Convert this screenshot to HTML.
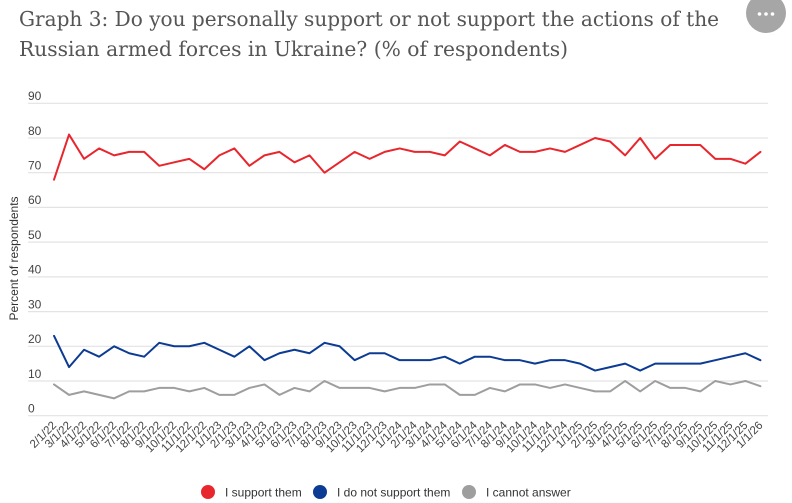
<!DOCTYPE html>
<html>
<head>
<meta charset="utf-8">
<style>
html,body{margin:0;padding:0;background:#fff;}
svg{display:block;}
</style>
</head>
<body>
<svg width="792" height="503" viewBox="0 0 792 503" xmlns="http://www.w3.org/2000/svg">
<rect width="792" height="503" fill="#ffffff"/>
<!-- Title -->
<g font-family="'DejaVu Serif','Liberation Serif',serif" font-size="20.5" fill="#555555">
<text x="19" y="26" textLength="700" lengthAdjust="spacingAndGlyphs">Graph 3: Do you personally support or not support the actions of the</text>
<text x="19" y="56" textLength="549" lengthAdjust="spacingAndGlyphs">Russian armed forces in Ukraine? (% of respondents)</text>
</g>
<!-- menu button -->
<circle cx="766" cy="13" r="20" fill="#a6a6a6"/>
<circle cx="759.5" cy="14" r="1.8" fill="#fff"/>
<circle cx="766" cy="14" r="1.8" fill="#fff"/>
<circle cx="772.5" cy="14" r="1.8" fill="#fff"/>

<!-- gridlines -->
<g stroke="#e3e3e3" stroke-width="1.2">
<line x1="28" x2="768" y1="415.7" y2="415.7"/>
<line x1="28" x2="768" y1="381.0" y2="381.0"/>
<line x1="28" x2="768" y1="346.3" y2="346.3"/>
<line x1="28" x2="768" y1="311.6" y2="311.6"/>
<line x1="28" x2="768" y1="276.9" y2="276.9"/>
<line x1="28" x2="768" y1="242.1" y2="242.1"/>
<line x1="28" x2="768" y1="207.4" y2="207.4"/>
<line x1="28" x2="768" y1="172.7" y2="172.7"/>
<line x1="28" x2="768" y1="138.0" y2="138.0"/>
<line x1="28" x2="768" y1="103.3" y2="103.3"/>
</g>
<!-- y tick labels -->
<g font-family="'Liberation Sans',sans-serif" font-size="12" fill="#444444">
<text x="28" y="412.5">0</text>
<text x="28" y="377.8">10</text>
<text x="28" y="343.1">20</text>
<text x="28" y="308.4">30</text>
<text x="28" y="273.7">40</text>
<text x="28" y="238.9">50</text>
<text x="28" y="204.2">60</text>
<text x="28" y="169.5">70</text>
<text x="28" y="134.8">80</text>
<text x="28" y="100.1">90</text>
</g>
<!-- y axis title -->
<text transform="translate(18,258.5) rotate(-90)" text-anchor="middle" font-family="'Liberation Sans',sans-serif" font-size="12" fill="#333333">Percent of respondents</text>

<!-- series -->
<g transform="matrix(15.03 0 0 -3.471 54 415.7)" fill="none" stroke-linejoin="round" stroke-linecap="round">
<polyline vector-effect="non-scaling-stroke" stroke="#9e9e9e" stroke-width="2" points="0,9 1,6 2,7 3,6 4,5 5,7 6,7 7,8 8,8 9,7 10,8 11,6 12,6 13,8 14,9 15,6 16,8 17,7 18,10 19,8 20,8 21,8 22,7 23,8 24,8 25,9 26,9 27,6 28,6 29,8 30,7 31,9 32,9 33,8 34,9 35,8 36,7 37,7 38,10 39,7 40,10 41,8 42,8 43,7 44,10 45,9 46,10 47,8.5"/>
<polyline vector-effect="non-scaling-stroke" stroke="#0b3b93" stroke-width="2" points="0,23 1,14 2,19 3,17 4,20 5,18 6,17 7,21 8,20 9,20 10,21 11,19 12,17 13,20 14,16 15,18 16,19 17,18 18,21 19,20 20,16 21,18 22,18 23,16 24,16 25,16 26,17 27,15 28,17 29,17 30,16 31,16 32,15 33,16 34,16 35,15 36,13 37,14 38,15 39,13 40,15 41,15 42,15 43,15 44,16 45,17 46,18 47,16"/>
<polyline vector-effect="non-scaling-stroke" stroke="#e8262d" stroke-width="2" points="0,68 1,81 2,74 3,77 4,75 5,76 6,76 7,72 8,73 9,74 10,71 11,75 12,77 13,72 14,75 15,76 16,73 17,75 18,70 19,73 20,76 21,74 22,76 23,77 24,76 25,76 26,75 27,79 28,77 29,75 30,78 31,76 32,76 33,77 34,76 35,78 36,80 37,79 38,75 39,80 40,74 41,78 42,78 43,78 44,74 45,74 46,72.6 47,76"/>
</g>

<!-- x labels -->
<g font-family="'Liberation Sans',sans-serif" font-size="11.5" fill="#444444" text-anchor="end">
<text transform="translate(57.0,426) rotate(-45)">2/1/22</text>
<text transform="translate(72.0,426) rotate(-45)">3/1/22</text>
<text transform="translate(87.1,426) rotate(-45)">4/1/22</text>
<text transform="translate(102.1,426) rotate(-45)">5/1/22</text>
<text transform="translate(117.1,426) rotate(-45)">6/1/22</text>
<text transform="translate(132.2,426) rotate(-45)">7/1/22</text>
<text transform="translate(147.2,426) rotate(-45)">8/1/22</text>
<text transform="translate(162.2,426) rotate(-45)">9/1/22</text>
<text transform="translate(177.2,426) rotate(-45)">10/1/22</text>
<text transform="translate(192.3,426) rotate(-45)">11/1/22</text>
<text transform="translate(207.3,426) rotate(-45)">12/1/22</text>
<text transform="translate(222.3,426) rotate(-45)">1/1/23</text>
<text transform="translate(237.4,426) rotate(-45)">2/1/23</text>
<text transform="translate(252.4,426) rotate(-45)">3/1/23</text>
<text transform="translate(267.4,426) rotate(-45)">4/1/23</text>
<text transform="translate(282.5,426) rotate(-45)">5/1/23</text>
<text transform="translate(297.5,426) rotate(-45)">6/1/23</text>
<text transform="translate(312.5,426) rotate(-45)">7/1/23</text>
<text transform="translate(327.5,426) rotate(-45)">8/1/23</text>
<text transform="translate(342.6,426) rotate(-45)">9/1/23</text>
<text transform="translate(357.6,426) rotate(-45)">10/1/23</text>
<text transform="translate(372.6,426) rotate(-45)">11/1/23</text>
<text transform="translate(387.7,426) rotate(-45)">12/1/23</text>
<text transform="translate(402.7,426) rotate(-45)">1/1/24</text>
<text transform="translate(417.7,426) rotate(-45)">2/1/24</text>
<text transform="translate(432.8,426) rotate(-45)">3/1/24</text>
<text transform="translate(447.8,426) rotate(-45)">4/1/24</text>
<text transform="translate(462.8,426) rotate(-45)">5/1/24</text>
<text transform="translate(477.8,426) rotate(-45)">6/1/24</text>
<text transform="translate(492.9,426) rotate(-45)">7/1/24</text>
<text transform="translate(507.9,426) rotate(-45)">8/1/24</text>
<text transform="translate(522.9,426) rotate(-45)">9/1/24</text>
<text transform="translate(538.0,426) rotate(-45)">10/1/24</text>
<text transform="translate(553.0,426) rotate(-45)">11/1/24</text>
<text transform="translate(568.0,426) rotate(-45)">12/1/24</text>
<text transform="translate(583.1,426) rotate(-45)">1/1/25</text>
<text transform="translate(598.1,426) rotate(-45)">2/1/25</text>
<text transform="translate(613.1,426) rotate(-45)">3/1/25</text>
<text transform="translate(628.1,426) rotate(-45)">4/1/25</text>
<text transform="translate(643.2,426) rotate(-45)">5/1/25</text>
<text transform="translate(658.2,426) rotate(-45)">6/1/25</text>
<text transform="translate(673.2,426) rotate(-45)">7/1/25</text>
<text transform="translate(688.3,426) rotate(-45)">8/1/25</text>
<text transform="translate(703.3,426) rotate(-45)">9/1/25</text>
<text transform="translate(718.3,426) rotate(-45)">10/1/25</text>
<text transform="translate(733.4,426) rotate(-45)">11/1/25</text>
<text transform="translate(748.4,426) rotate(-45)">12/1/25</text>
<text transform="translate(763.4,426) rotate(-45)">1/1/26</text>
</g>

<!-- legend -->
<circle cx="208" cy="492" r="7" fill="#e8262d"/>
<circle cx="320" cy="492" r="7" fill="#0b3b93"/>
<circle cx="469" cy="492" r="7" fill="#9e9e9e"/>
<g font-family="'Liberation Sans',sans-serif" font-size="12" fill="#333333">
<text x="225" y="496.5">I support them</text>
<text x="337" y="496.5">I do not support them</text>
<text x="486" y="496.5">I cannot answer</text>
</g>
</svg>
</body>
</html>
